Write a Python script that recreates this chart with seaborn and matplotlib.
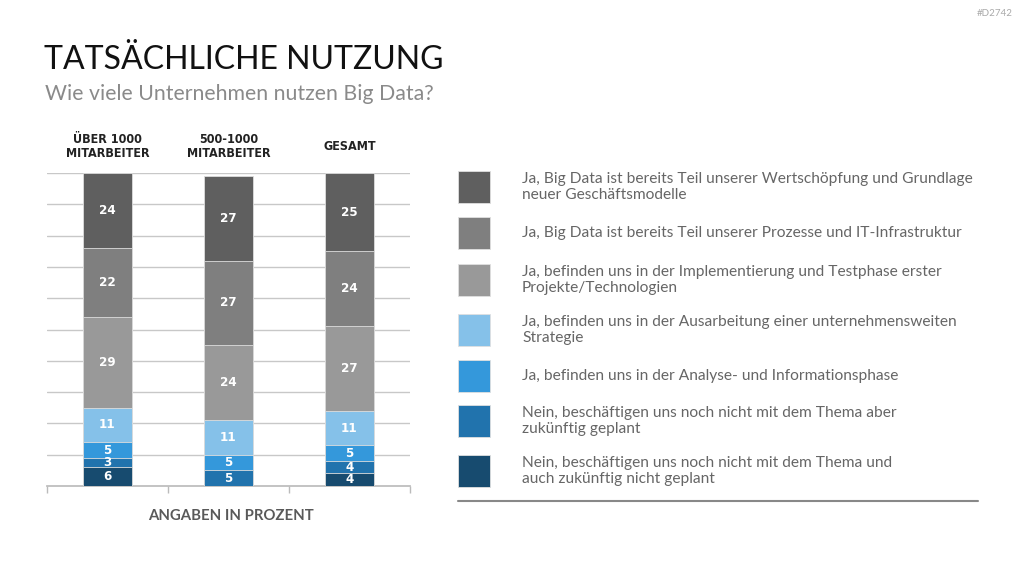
import numpy as np
import pandas as pd
import seaborn as sns
import matplotlib.pyplot as plt
from matplotlib.patches import Rectangle
from matplotlib.lines import Line2D

# data, segments listed from bottom to top
groups = ['ÜBER 1000\nMITARBEITER', '500-1000\nMITARBEITER', 'GESAMT']
segments = [
    'Nein, beschäftigen uns noch nicht mit dem Thema und\nauch zukünftig nicht geplant',
    'Nein, beschäftigen uns noch nicht mit dem Thema aber\nzukünftig geplant',
    'Ja, befinden uns in der Analyse- und Informationsphase',
    'Ja, befinden uns in der Ausarbeitung einer unternehmensweiten\nStrategie',
    'Ja, befinden uns in der Implementierung und Testphase erster\nProjekte/Technologien',
    'Ja, Big Data ist bereits Teil unserer Prozesse und IT-Infrastruktur',
    'Ja, Big Data ist bereits Teil unserer Wertschöpfung und Grundlage\nneuer Geschäftsmodelle',
]
ueber_1000 = [6, 3, 5, 11, 29, 22, 24]
mittel_500 = [0, 5, 5, 11, 24, 27, 27]
gesamt = [4, 4, 5, 11, 27, 24, 25]
colors = ['#174b6f', '#2173ad', '#3498db', '#85c1e9', '#999999', '#7f7f7f', '#5f5f5f']

sns.set_theme(style='white')
plt.rcParams['font.family'] = ['Lato', 'DejaVu Sans']

df = pd.DataFrame({'group': groups, **{s: v for s, v in zip(segments, zip(ueber_1000, mittel_500, gesamt))}})
cum = df[segments].cumsum(axis=1)

fig = plt.figure(figsize=(10.24, 5.76), dpi=100)
ax = fig.add_axes([47/1024, 1-486/576, 363/1024, 313/576])

# painter's trick: biggest cumulative first, smaller ones on top
for i in range(len(segments)-1, -1, -1):
    sns.barplot(x=df['group'], y=cum[segments[i]], color=colors[i], width=0.4,
                saturation=1, linewidth=0.6, edgecolor='#dddddd', ax=ax, zorder=3)

for gi, vals in enumerate([ueber_1000, mittel_500, gesamt]):
    bottom = 0
    for v in vals:
        if v > 0:
            ax.text(gi, bottom + v/2, str(v), ha='center', va='center', color='white',
                    fontsize=9.5, fontweight='bold', family='DejaVu Sans',
                    fontstretch='condensed', zorder=5)
        bottom += v

ax.set_ylim(0, 100)
ax.set_xlim(-0.5, 2.5)
ax.set_yticks(np.arange(10, 101, 10))
ax.yaxis.grid(True, color='#c8c8c8', linewidth=1)
ax.set_axisbelow(True)
ax.tick_params(left=False, labelleft=False, labelbottom=False)
ax.set_xticks([-0.5, 0.5, 1.5, 2.5], minor=False)
ax.tick_params(axis='x', bottom=True, direction='out', length=5, color='#bbbbbb', width=1)
ax.set_xlabel('')
ax.set_ylabel('')
for s in ['top', 'left', 'right']:
    ax.spines[s].set_visible(False)
ax.spines['bottom'].set_color('#bbbbbb')

for gi, g in enumerate(groups):
    ax.text(gi, 1.085, g, transform=ax.get_xaxis_transform(), ha='center', va='center',
            fontsize=9, fontweight='bold', family='DejaVu Sans', fontstretch='condensed',
            color='#222222', linespacing=1.05)

fig.text(231/1024, 1-516/576, 'ANGABEN IN PROZENT', ha='center', va='center',
         fontsize=10.7, fontweight='bold', color='#595959')

# titles
fig.text(44/1024, 1-60/576, 'TATSÄCHLICHE NUTZUNG', ha='left', va='center',
         fontsize=23, color='#111111')
fig.text(45/1024, 1-94/576, 'Wie viele Unternehmen nutzen Big Data?', ha='left', va='center',
         fontsize=15.3, color='#8a8a8a')
fig.text(1013/1024, 1-13/576, '#D2742', ha='right', va='center', fontsize=7, color='#aaaaaa')

# legend, top to bottom
leg_y = [187, 233, 280, 330, 376, 421, 471]
for k, yy in enumerate(leg_y):
    i = len(segments) - 1 - k
    fig.patches.append(Rectangle((458/1024, 1-(yy+16)/576), 32/1024, 32/576,
                                 transform=fig.transFigure, facecolor=colors[i],
                                 edgecolor='#e0e0e0', linewidth=0.6))
    fig.text(522/1024, 1-yy/576, segments[i], ha='left', va='center', fontsize=11.2,
             color='#666666', linespacing=1.15)
fig.lines.append(Line2D([458/1024, 978/1024], [1-501/576, 1-501/576],
                        transform=fig.transFigure, color='#888888', linewidth=1.5))

fig.savefig('out.png', dpi=100)
